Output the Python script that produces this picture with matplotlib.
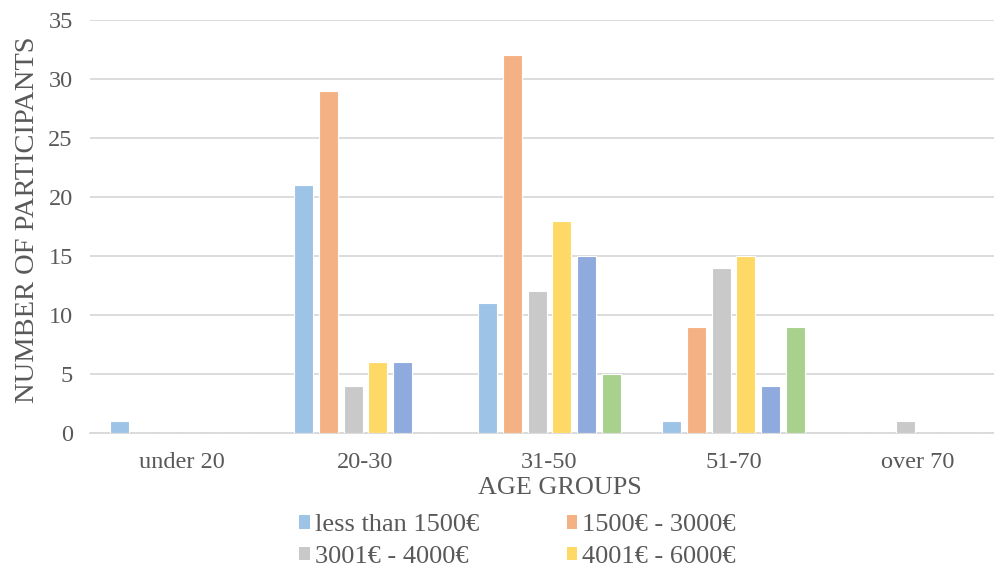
import numpy as np
import matplotlib.pyplot as plt
from matplotlib.patches import Patch

# age groups and income brackets
age_groups = ['under 20', '20-30', '31-50', '51-70', 'over 70']
income_labels = ['less than 1500€', '1500€ - 3000€', '3001€ - 4000€', '4001€ - 6000€',
                 'series 5', 'series 6']

less_1500 = [1, 21, 11, 1, 0]
inc_1500_3000 = [0, 29, 32, 9, 0]
inc_3001_4000 = [0, 4, 12, 14, 1]
inc_4001_6000 = [0, 6, 18, 15, 0]
inc_series5 = [0, 6, 15, 4, 0]
inc_series6 = [0, 0, 5, 9, 0]

series = [less_1500, inc_1500_3000, inc_3001_4000, inc_4001_6000, inc_series5, inc_series6]
colors = ['#9DC3E6', '#F4B183', '#C9C9C9', '#FFD966', '#8FAADC', '#A9D18E']

plt.rcParams['font.family'] = ['Liberation Serif', 'DejaVu Serif']
text_color = '#595959'

fig = plt.figure(figsize=(9.95, 5.65), dpi=100)
# plot area runs past the right edge, as in the reference
ax = fig.add_axes([89.5 / 995, 132 / 565, 920 / 995, 413 / 565])

x = np.arange(len(age_groups))
step = 0.134
width = 0.103
for i, (vals, c) in enumerate(zip(series, colors)):
    pos = x + (i - 2.5) * step
    ax.bar(pos, vals, width, color=c, edgecolor='white', linewidth=0.8, zorder=3)

ax.set_xlim(-0.5, 4.5)
ax.set_ylim(0, 35)
ax.set_yticks(range(0, 36, 5))
ax.set_xticks(x, age_groups)
ax.grid(axis='y', color='#D9D9D9', linewidth=1.3, zorder=0)
for s in ['top', 'right', 'left']:
    ax.spines[s].set_visible(False)
ax.spines['bottom'].set_color('#D9D9D9')
ax.spines['bottom'].set_linewidth(1.3)
ax.tick_params(axis='both', length=0, labelsize=17.5, labelcolor=text_color)
ax.tick_params(axis='x', pad=14)
ax.tick_params(axis='y', pad=12)

fig.text(28 / 995, 1 - 220 / 565, 'NUMBER OF PARTICIPANTS', rotation=90,
         fontsize=20.5, color=text_color, ha='center', va='center')
fig.text(560 / 995, 1 - 488 / 565, 'AGE GROUPS',
         fontsize=18.8, color=text_color, ha='center', va='center')

# row-wise legend order: 0 1 / 2 3
order = [0, 2, 1, 3]
handles = [Patch(facecolor=colors[k], edgecolor='none') for k in order]
labels = [income_labels[k] for k in order]
leg = fig.legend(handles, labels, ncol=2, loc='upper left',
                 bbox_to_anchor=(281 / 995, 1 - 496 / 565), frameon=False,
                 fontsize=19, handlelength=0.4, handleheight=0.4, handletextpad=0.2,
                 columnspacing=3.3, labelspacing=0.36, borderpad=0.2)
for t in leg.get_texts():
    t.set_color(text_color)

fig.savefig('out.png', dpi=100)
